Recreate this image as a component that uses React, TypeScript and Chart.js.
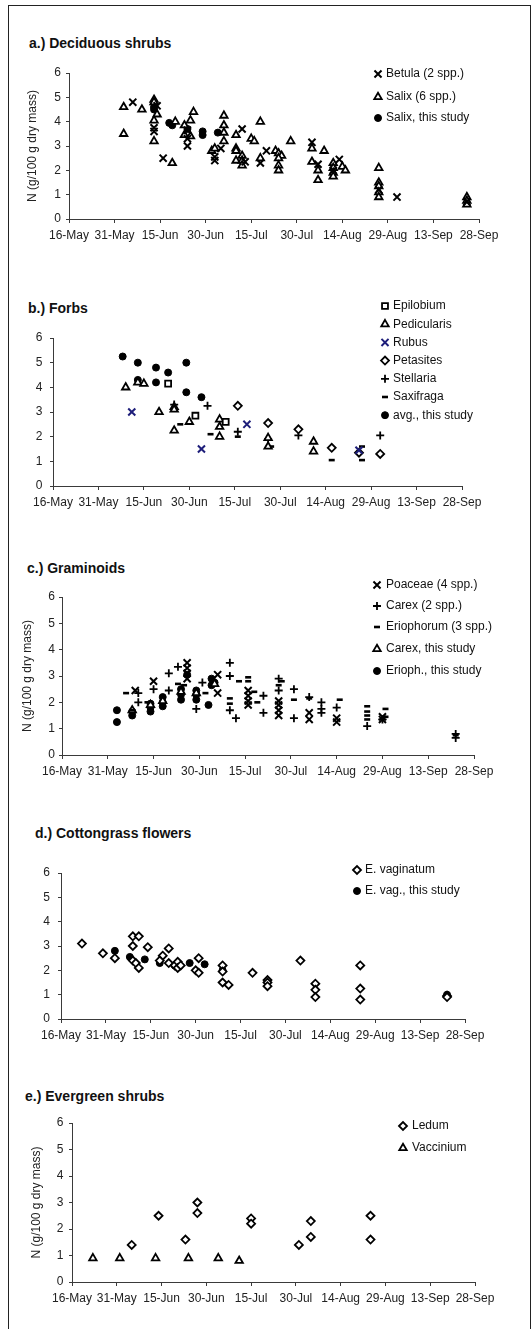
import React, { useEffect, useRef } from 'react';
import { Chart, registerables } from 'chart.js';
import { drawPoint } from 'chart.js/helpers';

Chart.register(...registerables);

const FONT = '"Liberation Sans", Arial, Helvetica, sans-serif';

// x values are day of year (16-May = day 136)
const xTickDays = [136, 151, 166, 181, 196, 211, 226, 241, 256, 271];
const xTickLabels = ['16-May', '31-May', '15-Jun', '30-Jun', '15-Jul', '30-Jul', '14-Aug', '29-Aug', '13-Sep', '28-Sep'];
const yTicks = [0, 1, 2, 3, 4, 5, 6];
const yTitle = 'N (g/100 g dry mass)';

// a.) Deciduous shrubs
const betulaA = [[157,4.8],[165,4.65],[164,3.75],[164,3.6],[167,2.5],[175,3.65],[175,3.3],[175,3.0],[184,2.55],[184,2.4],[186,2.9],[193,3.7],[194,2.35],[199,2.3],[201,2.8],[216,3.15],[218,2.25],[223,2.0],[225,2.45],[238,1.2],[244,0.9],[267,0.7]];
const salixA = [[154,4.6],[154,3.5],[160,4.5],[164,4.9],[164,4.8],[165,4.3],[164,4.05],[164,3.2],[170,2.3],[171,4.0],[177,4.4],[176,4.05],[174,3.85],[174,3.45],[176,3.4],[183,2.8],[184,2.9],[187,4.25],[187,3.85],[187,3.55],[187,3.2],[191,3.45],[191,2.9],[191,2.8],[191,2.4],[193,2.6],[193,2.4],[193,2.2],[196,3.3],[197,3.2],[199,4.0],[199,2.5],[209,3.2],[204,2.8],[205,2.7],[206,2.6],[205,2.5],[205,2.2],[205,2.0],[216,2.9],[216,2.35],[218,2.0],[218,1.6],[220,2.8],[223,2.3],[223,2.1],[223,1.9],[223,1.75],[226,2.15],[227,2.0],[238,2.1],[238,1.5],[238,1.35],[238,1.1],[238,0.9],[267,0.9],[267,0.75],[267,0.6]];
const salixStudyA = [[164,4.6],[164,4.5],[169,3.95],[170,3.85],[175,3.7],[180,3.6],[180,3.45],[185,3.55]];

// b.) Forbs
const epilobiumB = [[174,4.15],[183,2.85],[193,2.6]];
const pedicularisB = [[160,4.0],[164,4.2],[166,4.15],[171,3.0],[176,3.2],[176,3.1],[176,2.25],[181,2.6],[191,2.7],[191,2.4],[191,2.0],[207,1.95],[207,1.6],[222,1.8],[222,1.4]];
const rubusB = [[162,3.0],[185,1.5],[200,2.5],[237,1.45]];
const petasitesB = [[197,3.25],[207,2.55],[217,2.3],[228,1.55],[237,1.35],[244,1.3]];
const stellariaB = [[176,3.3],[187,3.25],[197,2.2],[207,1.9],[217,2.05],[244,2.05]];
const saxifragaB = [[178,2.5],[188,2.1],[197,2.0],[208,1.6],[228,1.05],[238,1.6],[238,1.05]];
const avgStudyB = [[159,5.25],[164,5.0],[170,4.8],[174,4.6],[180,5.0],[164,4.3],[170,4.2],[180,3.8],[185,3.6]];

// c.) Graminoids
const poaceaeC = [[160,2.45],[166,2.8],[177,3.5],[177,3.3],[177,3.1],[177,2.9],[187,3.05],[187,2.35],[197,2.45],[197,2.25],[197,2.05],[197,1.9],[207,2.05],[207,1.9],[207,1.7],[207,1.5],[217,1.6],[217,1.35],[226,1.4],[226,1.25],[241,1.45],[241,1.35]];
const carexC = [[161,2.0],[161,2.35],[166,2.5],[171,3.1],[174,3.35],[171,2.45],[180,1.75],[182,2.75],[191,3.5],[191,3.0],[191,1.7],[193,1.4],[202,2.25],[202,1.6],[207,2.9],[207,2.45],[212,2.5],[212,1.4],[217,2.2],[221,2.0],[221,1.75],[221,1.6],[226,1.8],[236,1.1],[241,1.35],[265,0.8],[265,0.65]];
const eriophorumC = [[157,2.35],[159,1.7],[164,2.0],[174,2.7],[176,2.65],[183,2.35],[191,2.15],[191,1.95],[194,2.8],[197,2.95],[197,2.8],[199,2.4],[200,2.0],[207,2.65],[208,2.8],[212,2.1],[217,2.15],[227,2.1],[236,1.85],[236,1.65],[236,1.5],[236,1.35],[242,1.75],[242,1.45],[265,0.75]];
const carexStudyC = [[159,1.7],[165,1.9],[169,2.05],[175,2.4],[180,2.35],[186,2.7]];
const eriophStudyC = [[154,1.7],[154,1.25],[159,1.65],[159,1.5],[165,1.95],[165,1.8],[165,1.65],[169,2.2],[169,2.0],[169,1.85],[175,2.5],[175,2.3],[175,2.1],[177,3.05],[180,2.45],[180,2.3],[180,2.1],[185,2.9],[186,2.75],[185,2.65],[184,1.9]];

// d.) Cottongrass flowers
const vaginatumD = [[143,3.1],[150,2.7],[154,2.5],[160,3.4],[162,3.4],[160,3.0],[160,2.4],[161,2.3],[162,2.1],[165,2.95],[170,2.6],[169,2.4],[172,2.9],[172,2.3],[174,2.2],[175,2.35],[175,2.1],[176,2.2],[181,2.0],[182,1.9],[182,2.5],[190,2.2],[190,1.95],[190,1.5],[192,1.4],[200,1.9],[205,1.6],[205,1.5],[205,1.35],[216,2.4],[221,1.45],[221,1.2],[221,0.9],[236,2.2],[236,1.25],[236,0.8],[265,0.95],[265,0.9]];
const vagStudyD = [[154,2.8],[159,2.55],[164,2.45],[169,2.3],[174,2.2],[179,2.3],[184,2.25],[190,2.0],[265,1.0]];

// e.) Evergreen shrubs
const ledumE = [[156,1.4],[165,2.5],[174,1.6],[178,3.0],[178,2.6],[196,2.4],[196,2.2],[212,1.4],[216,2.3],[216,1.7],[236,2.5],[236,1.6]];
const vacciniumE = [[143,0.9],[152,0.9],[164,0.9],[175,0.9],[185,0.9],[192,0.8]];

const STYLES: Record<string, any> = {
  x: { pointStyle: 'crossRot', pointRadius: 5, pointBorderWidth: 2, pointBorderColor: '#000', pointBackgroundColor: '#000' },
  xBlue: { pointStyle: 'crossRot', pointRadius: 5, pointBorderWidth: 2, pointBorderColor: '#1e1e7a', pointBackgroundColor: '#1e1e7a' },
  tri: { pointStyle: 'triangle', pointRadius: 4.3, pointBorderWidth: 1.8, pointBorderColor: '#000', pointBackgroundColor: '#fff' },
  dot: { pointStyle: 'circle', pointRadius: 3.5, pointBorderWidth: 1, pointBorderColor: '#000', pointBackgroundColor: '#000' },
  sq: { pointStyle: 'rect', pointRadius: 4.2, pointBorderWidth: 1.8, pointBorderColor: '#000', pointBackgroundColor: '#fff' },
  dia: { pointStyle: 'rectRot', pointRadius: 4, pointBorderWidth: 1.8, pointBorderColor: '#000', pointBackgroundColor: '#fff' },
  plus: { pointStyle: 'cross', pointRadius: 4, pointBorderWidth: 1.8, pointBorderColor: '#000', pointBackgroundColor: '#000' },
  dash: { pointStyle: 'line', pointRadius: 3, pointBorderWidth: 2.6, pointBorderColor: '#000', pointBackgroundColor: '#000' },
};

type Series = { label: string; style: string; data: number[][] };
type PanelCfg = {
  title: string; titleX: number; titleY: number;
  top: number; height: number;
  axisLeft: number; axisRight: number; yTop: number; yBottom: number;
  yLabelGap: number; showYTitle: boolean; yTitleX: number;
  legendMarkerX: number; legendTextX: number; legendRows: number[];
  series: Series[];
};

const PANELS: PanelCfg[] = [
  {
    title: 'a.) Deciduous shrubs', titleX: 29, titleY: 43,
    top: 50, height: 205, axisLeft: 69, axisRight: 479, yTop: 73, yBottom: 219,
    yLabelGap: 8, showYTitle: true, yTitleX: 33,
    legendMarkerX: 378, legendTextX: 386, legendRows: [24, 47, 68],
    series: [
      { label: 'Betula (2 spp.)', style: 'x', data: betulaA },
      { label: 'Salix (6 spp.)', style: 'tri', data: salixA },
      { label: 'Salix, this study', style: 'dot', data: salixStudyA },
    ],
  },
  {
    title: 'b.) Forbs', titleX: 28, titleY: 308,
    top: 280, height: 240, axisLeft: 53, axisRight: 462, yTop: 338, yBottom: 486,
    yLabelGap: 10.5, showYTitle: false, yTitleX: 0,
    legendMarkerX: 385, legendTextX: 393, legendRows: [26, 44.2, 62.4, 80.6, 98.8, 117, 135.2],
    series: [
      { label: 'Epilobium', style: 'sq', data: epilobiumB },
      { label: 'Pedicularis', style: 'tri', data: pedicularisB },
      { label: 'Rubus', style: 'xBlue', data: rubusB },
      { label: 'Petasites', style: 'dia', data: petasitesB },
      { label: 'Stellaria', style: 'plus', data: stellariaB },
      { label: 'Saxifraga', style: 'dash', data: saxifragaB },
      { label: 'avg., this study', style: 'dot', data: avgStudyB },
    ],
  },
  {
    title: 'c.) Graminoids', titleX: 27, titleY: 568,
    top: 560, height: 228, axisLeft: 62, axisRight: 474, yTop: 597, yBottom: 755,
    yLabelGap: 7, showYTitle: true, yTitleX: 28,
    legendMarkerX: 377, legendTextX: 386, legendRows: [25, 46, 67, 89, 111],
    series: [
      { label: 'Poaceae (4 spp.)', style: 'x', data: poaceaeC },
      { label: 'Carex (2 spp.)', style: 'plus', data: carexC },
      { label: 'Eriophorum (3 spp.)', style: 'dash', data: eriophorumC },
      { label: 'Carex, this study', style: 'tri', data: carexStudyC },
      { label: 'Erioph., this study', style: 'dot', data: eriophStudyC },
    ],
  },
  {
    title: 'd.) Cottongrass flowers', titleX: 35, titleY: 833,
    top: 850, height: 205, axisLeft: 61, axisRight: 465, yTop: 873, yBottom: 1019,
    yLabelGap: 11, showYTitle: false, yTitleX: 0,
    legendMarkerX: 357, legendTextX: 365, legendRows: [20, 41],
    series: [
      { label: 'E. vaginatum', style: 'dia', data: vaginatumD },
      { label: 'E. vag., this study', style: 'dot', data: vagStudyD },
    ],
  },
  {
    title: 'e.) Evergreen shrubs', titleX: 25, titleY: 1096,
    top: 1110, height: 210, axisLeft: 72, axisRight: 475, yTop: 1123, yBottom: 1282,
    yLabelGap: 8.5, showYTitle: true, yTitleX: 37,
    legendMarkerX: 403, legendTextX: 412, legendRows: [16, 38],
    series: [
      { label: 'Ledum', style: 'dia', data: ledumE },
      { label: 'Vaccinium', style: 'tri', data: vacciniumE },
    ],
  },
];

const legendPlugin = {
  id: 'customLegend',
  afterDraw(chart: any, _args: any, opts: any) {
    const { ctx } = chart;
    ctx.save();
    opts.items.forEach((it: Series, i: number) => {
      const y = opts.rows[i];
      const st = STYLES[it.style];
      ctx.fillStyle = st.pointBackgroundColor;
      ctx.strokeStyle = st.pointBorderColor;
      ctx.lineWidth = st.pointBorderWidth;
      drawPoint(ctx, { pointStyle: st.pointStyle, radius: st.pointRadius, borderWidth: st.pointBorderWidth, rotation: 0 } as any, opts.markerX, y);
      ctx.fillStyle = '#111';
      ctx.font = `12px ${FONT}`;
      ctx.textBaseline = 'middle';
      ctx.textAlign = 'left';
      ctx.fillText(it.label, opts.textX, y);
    });
    ctx.restore();
  },
};

const AXIS_COLOR = '#3a3a3a';

function Panel({ cfg }: { cfg: PanelCfg }) {
  const ref = useRef<HTMLCanvasElement>(null);
  useEffect(() => {
    const canvas = ref.current;
    if (!canvas) return;
    const chart = new Chart(canvas, {
      type: 'scatter',
      data: {
        datasets: cfg.series.map((s) => ({
          label: s.label,
          data: s.data.map(([x, y]) => ({ x, y })),
          showLine: false,
          ...STYLES[s.style],
        })),
      },
      options: {
        animation: false,
        responsive: false,
        devicePixelRatio: 1,
        layout: { padding: { left: 0, right: 531 - cfg.axisRight, top: cfg.yTop - cfg.top, bottom: 0 } },
        plugins: {
          legend: { display: false },
          tooltip: { enabled: false },
          customLegend: { items: cfg.series, rows: cfg.legendRows, markerX: cfg.legendMarkerX, textX: cfg.legendTextX },
        } as any,
        scales: {
          x: {
            type: 'linear',
            min: xTickDays[0],
            max: xTickDays[xTickDays.length - 1],
            afterBuildTicks: (s: any) => { s.ticks = xTickDays.map((v) => ({ value: v })); },
            afterFit: (s: any) => { s.height = cfg.top + cfg.height - cfg.yBottom; },
            ticks: {
              autoSkip: false, maxRotation: 0, minRotation: 0, padding: 5, color: '#222',
              font: { size: 12, family: FONT },
              callback: (v: any) => { const i = xTickDays.indexOf(Number(v)); return i >= 0 ? xTickLabels[i] : ''; },
            },
            grid: { display: true, drawOnChartArea: false, drawTicks: true, tickLength: 4, color: AXIS_COLOR },
            border: { display: true, color: AXIS_COLOR, width: 1 },
          },
          y: {
            type: 'linear',
            min: yTicks[0],
            max: yTicks[yTicks.length - 1],
            afterBuildTicks: (s: any) => { s.ticks = yTicks.map((v) => ({ value: v })); },
            afterFit: (s: any) => { s.width = cfg.axisLeft; },
            ticks: { padding: cfg.yLabelGap - 3, color: '#222', font: { size: 12, family: FONT } },
            grid: { display: true, drawOnChartArea: false, drawTicks: true, tickLength: 3, color: AXIS_COLOR },
            border: { display: true, color: AXIS_COLOR, width: 1 },
            title: {
              display: cfg.showYTitle, text: yTitle, color: '#222',
              font: { size: 12, family: FONT },
              padding: { top: Math.max(0, cfg.yTitleX - 7.2), bottom: 0 },
            },
          },
        },
      } as any,
      plugins: [legendPlugin],
    });
    return () => chart.destroy();
  }, [cfg]);
  return (
    <>
      <div style={{ position: 'absolute', left: cfg.titleX, top: cfg.titleY - 9, font: `bold 14px ${FONT}`, lineHeight: '18px', color: '#111', whiteSpace: 'nowrap' }}>
        {cfg.title}
      </div>
      <canvas
        ref={ref}
        width={531}
        height={cfg.height}
        style={{ position: 'absolute', left: 0, top: cfg.top, width: 531, height: cfg.height }}
      />
    </>
  );
}

export default function App() {
  return (
    <div style={{ position: 'absolute', left: 0, top: 0, width: 531, height: 1329, overflow: 'hidden', background: '#fff' }}>
      <div style={{ position: 'absolute', left: 8, top: 5, width: 523, height: 1324, border: '1px solid #222', borderBottom: 'none', boxSizing: 'border-box' }} />
      {PANELS.map((p) => <Panel key={p.title} cfg={p} />)}
    </div>
  );
}
